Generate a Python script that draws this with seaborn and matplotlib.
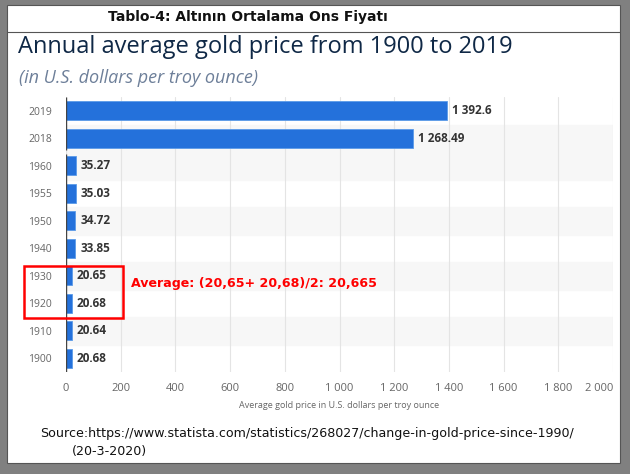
import seaborn as sns
import matplotlib.pyplot as plt
import matplotlib.patches as patches
import pandas as pd

sns.set_theme(style="white")
plt.rcParams['font.family'] = ['Open Sans', 'DejaVu Sans']

# data
years = ["2019", "2018", "1960", "1955", "1950", "1940", "1930", "1920", "1910", "1900"]
prices = [1392.6, 1268.49, 35.27, 35.03, 34.72, 33.85, 20.65, 20.68, 20.64, 20.68]
shaded_years = ["2018", "1960", "1950", "1930", "1910"]
xticks = [0, 200, 400, 600, 800, 1000, 1200, 1400, 1600, 1800, 2000]

df = pd.DataFrame({"year": years, "price": prices})

W, H = 630, 474
fig = plt.figure(figsize=(W / 100, H / 100), dpi=100)
fig.patch.set_facecolor("#808080")

# white page with thin frame
fig.patches.append(patches.Rectangle((7 / W, 1 - 463 / H), 613 / W, 458 / H,
                                     transform=fig.transFigure, facecolor="white",
                                     edgecolor="#555555", linewidth=0.8, zorder=-2))
fig.add_artist(plt.Line2D([7 / W, 620 / W], [1 - 32 / H, 1 - 32 / H],
                          transform=fig.transFigure, color="#555555", linewidth=0.8))

ax = fig.add_axes([66 / W, 1 - 372 / H, 547 / W, 275 / H])
ax.set_facecolor("white")

for i, y in enumerate(years):
    if y in shaded_years:
        ax.axhspan(i - 0.5, i + 0.5, color="#f7f7f7", zorder=0)

sns.barplot(data=df, x="price", y="year", order=years, orient="h",
            color="#2471db", width=0.68, saturation=1, ax=ax, zorder=3,
            edgecolor="#5b9be8", linewidth=0.6)

for i, v in enumerate(prices):
    label = f"{v:,}".replace(",", " ")
    ax.text(v + 18, i, label, va="center", ha="left", fontsize=8.5,
            fontweight="bold", color="#333333", zorder=4)

ax.set_xlim(0, 2000)
ax.set_ylim(len(years) - 0.5, -0.5)
ax.set_xticks(xticks)
ax.set_xticklabels([f"{t:,}".replace(",", " ") for t in xticks], fontsize=8, color="#666666")
ax.get_xticklabels()[-1].set_horizontalalignment("right")
ax.tick_params(axis="y", labelsize=7.5, labelcolor="#666666", length=0, pad=10)
ax.tick_params(axis="x", length=0, pad=8)
ax.grid(axis="x", color="#e4e4e4", linewidth=0.8, zorder=1)
ax.set_axisbelow(True)
for s in ax.spines.values():
    s.set_visible(False)

# broken category axis
ax.vlines(0, -0.5, 1.42, color="#444444", linewidth=1, zorder=5)
ax.vlines(0, 1.58, len(years) - 0.5, color="#444444", linewidth=1, zorder=5)

ax.set_xlabel("Average gold price in U.S. dollars per troy ounce", fontsize=6.5,
              color="#666666", labelpad=5)
ax.set_ylabel("")

fig.text(248 / W, 1 - 17 / H, "Tablo-4: Altının Ortalama Ons Fiyatı", ha="center",
         va="center", fontsize=10, fontweight="bold", color="#111111",
         family=["DejaVu Sans"])
fig.text(18 / W, 1 - 47 / H, "Annual average gold price from 1900 to 2019",
         ha="left", va="center", fontsize=17, color="#0f2846")
fig.text(19 / W, 1 - 78 / H, "(in U.S. dollars per troy ounce)", ha="left",
         va="center", fontsize=13, style="italic", color="#6d7f99")

# highlight of the 1920/1930 rows
fig.patches.append(patches.Rectangle((24 / W, 1 - 318 / H), 99 / W, 52 / H,
                                     transform=fig.transFigure, fill=False,
                                     edgecolor="#ff0000", linewidth=1.8, zorder=10))
fig.text(131 / W, 1 - 283 / H, "Average: (20,65+ 20,68)/2: 20,665", ha="left",
         va="center", fontsize=9.1, fontweight="bold", color="#ff0000",
         family=["DejaVu Sans"])

fig.text(40 / W, 1 - 434 / H,
         "Source:https://www.statista.com/statistics/268027/change-in-gold-price-since-1990/",
         ha="left", va="center", fontsize=9.1, color="#111111", family=["DejaVu Sans"])
fig.text(72 / W, 1 - 452 / H, "(20-3-2020)", ha="left", va="center", fontsize=9.1,
         color="#111111", family=["DejaVu Sans"])

plt.savefig("out.png", dpi=100)
